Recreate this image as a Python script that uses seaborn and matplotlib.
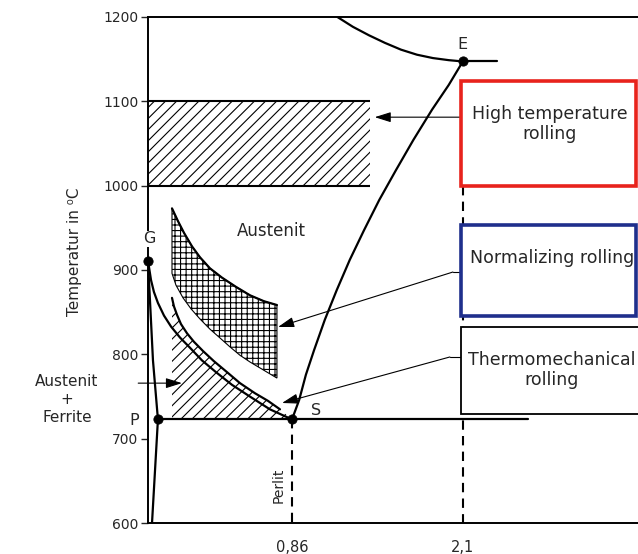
import numpy as np
import pandas as pd
import seaborn as sns
import matplotlib.pyplot as plt
from matplotlib.patches import Rectangle

# values: x on the diagram's carbon scale, T in deg C
x_ticks = [0.86, 2.1]
x_tick_labels = ['0,86', '2,1']
y_ticks = [600, 700, 800, 900, 1000, 1100, 1200]

# liquidus down to E
liq_x = [1.186, 1.302, 1.418, 1.534, 1.650, 1.766, 1.882, 1.998, 2.099]
liq_t = [1200, 1188, 1178, 1169, 1161, 1155, 1151, 1148.5, 1147]
# E and the short line right of it
e_line_x = [2.099, 2.345]
e_line_t = [1147, 1147]
# S - E  (Acm)
acm_x = [0.86, 0.912, 0.961, 1.020, 1.098, 1.184, 1.279, 1.382, 1.493, 1.613,
         1.740, 1.876, 1.996, 2.099]
acm_t = [723, 746, 776, 805, 841, 876, 912, 947, 983, 1018, 1054, 1090, 1119, 1147]
# G - S  (A3)
gs_x = [-0.184, -0.162, -0.141, -0.112, -0.068, -0.017, 0.048, 0.120, 0.207,
        0.309, 0.425, 0.556, 0.700, 0.86]
gs_t = [911, 888, 874, 861, 846, 833, 820, 808, 793, 779, 764, 750, 735, 723]
# G - P - bottom
gp_x = [-0.184, -0.170, -0.148, -0.112, -0.133, -0.155]
gp_t = [911, 865, 793, 723, 663, 600]
# P - S eutectoid line
ps_x = [-0.112, 2.57]
ps_t = [723, 723]

# high temperature rolling band
ht_x = [-0.184, 1.426]
ht_low, ht_high = 1000, 1100

# normalizing rolling window (cross hatched)
norm_up_x = [-0.010, 0.033, 0.077, 0.135, 0.193, 0.265, 0.352, 0.454, 0.556, 0.657, 0.751]
norm_up_t = [973, 958, 944, 928, 915, 902, 891, 880, 870, 863, 858.5]
norm_lo_x = [-0.010, 0.019, 0.070, 0.128, 0.193, 0.265, 0.338, 0.410, 0.483, 0.556, 0.628, 0.751]
norm_lo_t = [896, 882, 867, 854, 842, 830, 819.5, 809, 799, 791, 784, 772]

# thermomechanical rolling window (upper edge, rest bounded by S and 723)
tm_up_x = [-0.010, 0.004, 0.026, 0.055, 0.099, 0.149, 0.215, 0.294, 0.389, 0.483,
           0.592, 0.686, 0.773]
tm_up_t = [867, 857, 847, 836, 825, 815, 804, 792, 779, 766, 754, 745, 735]

points = pd.DataFrame({'name': ['G', 'P', 'S', 'E'],
                       'x': [-0.184, -0.112, 0.86, 2.099],
                       't': [911, 723, 723, 1147]})

sns.set_theme(style='ticks', rc={'axes.edgecolor': 'black', 'hatch.linewidth': 0.8})
plt.rcParams['font.family'] = ['DejaVu Sans']

fig = plt.figure(figsize=(6.38, 5.54), dpi=100)
ax = fig.add_axes([148 / 638, 30.7 / 554, 490 / 638, 506.6 / 554])
ax.set_xlim(-0.184, 3.369)
ax.set_ylim(600, 1200)

# hatched band 1000..1100
ax.fill_between(ht_x, ht_low, ht_high, hatch='///', facecolor='white',
                edgecolor='black', linewidth=0, zorder=1)
ax.hlines([ht_low, ht_high], ht_x[0], ht_x[1], color='black', lw=1.5)

# thermomechanical window
tm_poly_x = tm_up_x + [0.86, tm_up_x[0]]
tm_poly_t = tm_up_t + [723, 723]
ax.fill(tm_poly_x, tm_poly_t, hatch='///', facecolor='white', edgecolor='black',
        linewidth=0, zorder=1)

# normalizing window
nw_x = norm_up_x + norm_lo_x[::-1]
nw_t = norm_up_t + norm_lo_t[::-1]
ax.fill(nw_x, nw_t, hatch='+++', facecolor='white', edgecolor='black',
        linewidth=0.8, zorder=1)

curves = [(liq_x, liq_t), (e_line_x, e_line_t), (acm_x, acm_t), (gs_x, gs_t),
          (gp_x, gp_t), (ps_x, ps_t), (norm_up_x, norm_up_t), (tm_up_x, tm_up_t)]
for cx, ct in curves:
    sns.lineplot(x=cx, y=ct, sort=False, estimator=None, color='black',
                 lw=1.6, ax=ax, zorder=3)

# dashed composition lines
ax.plot([0.86, 0.86], [723, 600], color='black', lw=1.5, dashes=(4.5, 3))
ax.plot([2.1, 2.1], [999, 600], color='black', lw=1.5, dashes=(4.5, 3), zorder=1)

sns.scatterplot(data=points, x='x', y='t', color='black', s=45, ax=ax,
                zorder=6, edgecolor='black', legend=False, clip_on=False)

# boxes
ax.add_patch(Rectangle((2.085, 999), 3.355 - 2.085, 1124 - 999, facecolor='white',
                       edgecolor='#e8231c', lw=2.6, zorder=4))
ax.add_patch(Rectangle((2.085, 845.5), 3.355 - 2.085, 953 - 845.5, facecolor='white',
                       edgecolor='#1f2f8c', lw=2.6, zorder=4))
ax.add_patch(Rectangle((2.085, 729), 3.42 - 2.085, 832.5 - 729, facecolor='white',
                       edgecolor='black', lw=1.3, zorder=4))

box_font = 12.5
ax.text(2.731, 1073, 'High temperature\nrolling', ha='center', va='center',
        fontsize=box_font, linespacing=1.15, zorder=5)
ax.text(2.745, 914, 'Normalizing rolling', ha='center', va='center',
        fontsize=box_font, zorder=5)
ax.text(2.745, 781.5, 'Thermomechanical\nrolling', ha='center', va='center',
        fontsize=box_font, linespacing=1.15, zorder=5)

# arrows
arrow = dict(arrowstyle='-|>,head_length=0.7,head_width=0.22', color='black',
             lw=0.8, mutation_scale=14, shrinkA=0, shrinkB=0)
ax.annotate('', xy=(1.46, 1081), xytext=(2.085, 1081), arrowprops=arrow)
ax.plot([2.085, 2.027], [897.6, 897.6], color='black', lw=0.8)
ax.annotate('', xy=(0.759, 832.5), xytext=(2.027, 897.6), arrowprops=arrow)
ax.plot([2.085, 2.005], [797, 797], color='black', lw=0.8)
ax.annotate('', xy=(0.788, 742.5), xytext=(2.005, 797), arrowprops=arrow)
ax.annotate('', xy=(0.062, 766), xytext=(-0.255, 766), arrowprops=arrow,
            annotation_clip=False)

# labels
ax.text(0.71, 946, 'Austenit', ha='center', va='center', fontsize=12)
ax.text(-0.172, 937, 'G', ha='center', va='center', fontsize=11.5, zorder=5,
        bbox=dict(facecolor='white', edgecolor='none', pad=0.5))
ax.text(2.099, 1167.5, 'E', ha='center', va='center', fontsize=11.5)
ax.text(-0.286, 722, 'P', ha='center', va='center', fontsize=11.5)
ax.text(1.034, 734, 'S', ha='center', va='center', fontsize=11.5)
ax.text(0.766, 645, 'Perlit', ha='center', va='center', rotation=90, fontsize=10)

fig.text(67 / 638, 1 - 400 / 554, 'Austenit\n+\nFerrite', ha='center', va='center',
         fontsize=11, linespacing=1.25)
fig.text(74 / 638, 1 - 252 / 554, 'Temperatur in \u2070C', ha='center', va='center',
         rotation=90, fontsize=11)

ax.set_xticks(x_ticks, x_tick_labels)
ax.set_yticks(y_ticks)
ax.tick_params(axis='x', length=0, pad=12, labelsize=10.5)
ax.tick_params(axis='y', length=5, width=1, direction='out', labelsize=10, pad=2)
ax.set_xlabel('')
ax.set_ylabel('')
for side in ['left', 'top', 'bottom']:
    ax.spines[side].set_linewidth(1.4)
ax.spines['right'].set_visible(False)

fig.savefig('out.png', dpi=100)
